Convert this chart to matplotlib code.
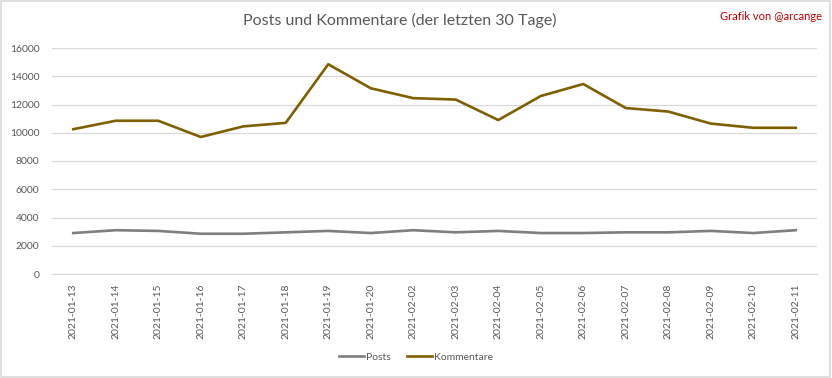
import numpy as np
import matplotlib.pyplot as plt
from matplotlib.patches import Rectangle

dates = ["2021-01-13", "2021-01-14", "2021-01-15", "2021-01-16", "2021-01-17",
         "2021-01-18", "2021-01-19", "2021-01-20", "2021-02-02", "2021-02-03",
         "2021-02-04", "2021-02-05", "2021-02-06", "2021-02-07", "2021-02-08",
         "2021-02-09", "2021-02-10", "2021-02-11"]
posts = [2900, 3100, 3050, 2850, 2850, 2950, 3050, 2900, 3100, 2950,
         3050, 2900, 2900, 2950, 2950, 3050, 2900, 3100]
kommentare = [10250, 10850, 10850, 9700, 10450, 10700, 14850, 13150, 12450, 12350,
              10900, 12600, 13450, 11750, 11500, 10650, 10350, 10350]

plt.rcParams['font.family'] = ['Lato', 'DejaVu Sans']

fig = plt.figure(figsize=(8.32, 3.78), dpi=100)
ax = fig.add_axes([52/832, 1-274/378, (817-52)/832, (274-48)/378])

x = np.arange(len(dates))
ax.plot(x, posts, color="#7F7F7F", lw=1.9, label="Posts")
ax.plot(x, kommentare, color="#7F6000", lw=1.9, label="Kommentare")

ax.set_xlim(-0.5, len(dates) - 0.5)
ax.set_ylim(0, 16000)
ax.set_yticks(np.arange(0, 16001, 2000))
ax.set_xticks(x)
ax.set_xticklabels(dates, rotation=90, fontsize=7.5, color="#595959")
ax.tick_params(axis="y", labelsize=7.5, labelcolor="#595959", length=0, pad=9)
ax.tick_params(axis="x", length=0, pad=7)
ax.grid(axis="y", color="#D9D9D9", lw=0.9)
ax.set_axisbelow(True)
for s in ["top", "right", "left"]:
    ax.spines[s].set_visible(False)
ax.spines["bottom"].set_color("#D9D9D9")

fig.text(400/832, 1-20/378, "Posts und Kommentare (der letzten 30 Tage)",
         ha="center", va="center", fontsize=11.5, color="#595959")
fig.text(822/832, 1-16/378, "Grafik von @arcange", ha="right", va="center",
         fontsize=8, color="#C00000")

fig.legend(loc="center", bbox_to_anchor=(416/832, 1-357/378), ncol=2,
           frameon=False, fontsize=7.5, handlelength=2.4, columnspacing=1.5,
           handletextpad=0.2, labelcolor="#595959")

fig.patches.append(Rectangle((0.001, 0.002), 0.997, 0.995, transform=fig.transFigure,
                             fill=False, edgecolor="#D9D9D9", lw=1.2))

fig.savefig("out.png", dpi=100)
